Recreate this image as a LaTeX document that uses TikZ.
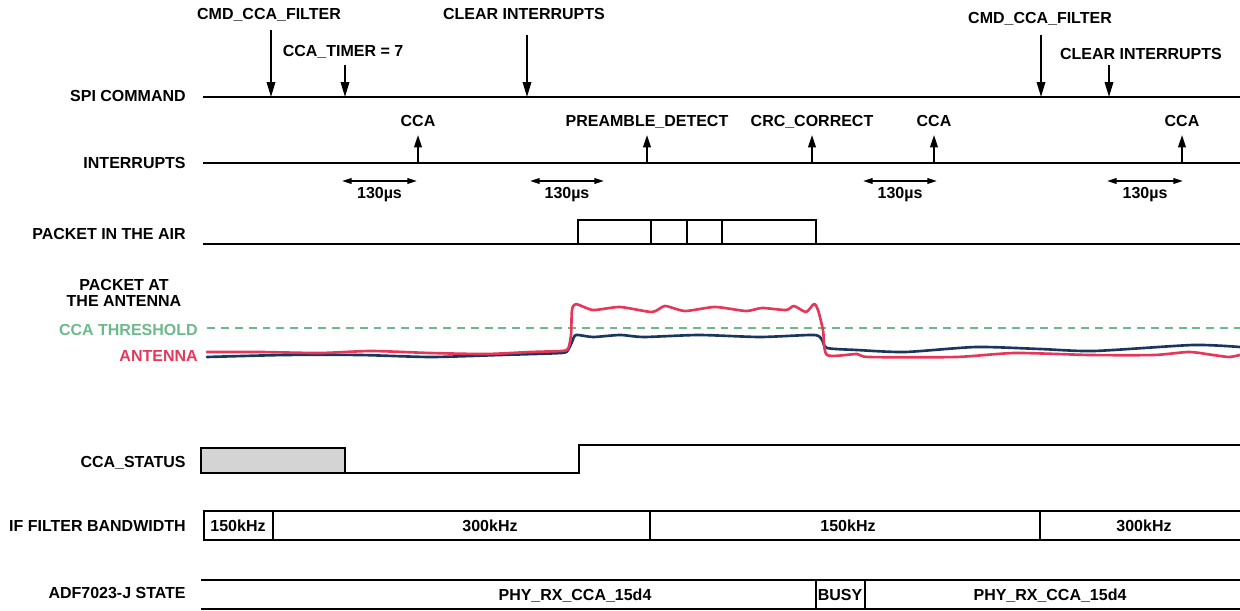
\documentclass[tikz,border=0pt]{standalone}
\usepackage{fontspec}
\setmainfont{Liberation Sans}
\usetikzlibrary{arrows.meta}

\definecolor{antred}{HTML}{E6375A}
\definecolor{antnavy}{HTML}{1B365D}
\definecolor{thrgreen}{HTML}{6CB98C}
\definecolor{ccagray}{HTML}{D4D4D4}

\begin{document}
\begin{tikzpicture}[x=0.02cm, y=-0.02cm,
		every node/.style={font=\fontsize{9.1}{10}\selectfont\bfseries, inner sep=0pt},
		signal/.style={anchor=base east},
		event/.style={anchor=base},
		trace/.style={line width=1.7pt},
		frame/.style={line width=1.4pt},
		down/.style={line width=1.1pt, -{Triangle[length=8.5pt, width=4.8pt]}},
		up/.style={line width=1.1pt, -{Triangle[length=7pt, width=4.3pt]}},
		span/.style={line width=0.9pt, {Triangle[length=5.5pt, width=3.2pt]}-{Triangle[length=5.5pt, width=3.2pt]}},
		threshold/.style={thrgreen, line width=1.3pt, dash pattern=on 4.5pt off 3.4pt},
		rssi/.style={line width=1.5pt, line join=round, line cap=round}
		]
		\useasboundingbox (0,0) rectangle (1240,611);

		\node [signal] (spi) at (186,102) {SPI COMMAND};
		\node [signal] (irq) at (186,169) {INTERRUPTS};
		\node [signal] (air) at (186,239) {PACKET IN THE AIR};
		\node [event] (pkt1) at (124,290) {PACKET AT};
		\node [event] (pkt2) at (124,306) {THE ANTENNA};
		\node [signal, text=thrgreen] (thr) at (198,335) {CCA THRESHOLD};
		\node [signal, text=antred] (ant) at (198,361) {ANTENNA};
		\node [signal] (status) at (186,467) {CCA\_STATUS};
		\node [signal] (ifbw) at (186,531) {IF FILTER BANDWIDTH};
		\node [signal] (state) at (186,598) {ADF7023-J STATE};

		\draw [trace] (203,97) -- (1240,97);
		\node [event] (cmdA) at (269,20) {CMD\_CCA\_FILTER};
		\node [event] (timer) at (343,57) {CCA\_TIMER = 7};
		\node [event] (clrA) at (524,20) {CLEAR INTERRUPTS};
		\node [event] (cmdB) at (1040,24) {CMD\_CCA\_FILTER};
		\node [event] (clrB) at (1141,60) {CLEAR INTERRUPTS};
		\foreach \x/\y in {271/30, 345/65, 527/35, 1041/35, 1109/65}
			\draw [down] (\x,\y) -- (\x,97);

		\draw [trace] (203,163) -- (1240,163);
		\foreach \x/\txt in {418/CCA, 647/PREAMBLE\_DETECT, 812/CRC\_CORRECT, 934/CCA, 1182/CCA} {
			\node [event] (irq\x) at (\x,127) {\txt};
			\draw [up] (\x,163) -- (\x,135);
		}
		\foreach \a/\b in {342/417, 530/604, 863/937, 1107/1183} {
			\draw [span] (\a,181) -- (\b,181);
			\node [event] (us\a) at ({(\a+\b)/2},198) {130µs};
		}

		\draw [frame] (203,244) -- (578,244) -- (578,220) -- (816,220) -- (816,244) -- (1240,244);
		\draw [frame] (578,244) -- (816,244);
		\foreach \x in {651, 687, 722}
			\draw [frame] (\x,220) -- (\x,244);

		\draw [threshold] (207,328) -- (1240,328);
		\draw [rssi, antnavy] plot [smooth, tension=0.4] coordinates {(207,357) (285,355) (360,355) (431,357) (500,355) (561,353) (568,350) (572,342) (576,335) (593,337) (620,335) (644,337) (699,335) (760,337) (814,335) (822,340) (827,348) (857,350) (905,352) (976,347) (1040,349) (1094,351) (1193,345) (1240,347)};
		\draw [rssi, antred] plot [smooth, tension=0.4] coordinates {(207,352) (260,352) (320,353) (371,351) (430,353) (486,354) (530,352) (561,351) (568,349) (571,335) (572,310) (576,304) (593,310) (620,307) (652,312) (665,306) (685,311) (715,307) (746,311) (762,308) (786,310) (794,306) (806,312) (814,304) (818,310) (823,330) (827,355) (857,354) (869,357) (956,357) (1015,353) (1090,355) (1154,355) (1189,352) (1213,355) (1229,357) (1240,355)};

		\filldraw [frame, fill=ccagray] (201,448) rectangle (345,473);
		\draw [frame] (345,473) -- (579,473) -- (579,445) -- (1240,445);

		\draw [frame] (1240,511) -- (204,511) -- (204,540) -- (1240,540);
		\foreach \x in {273, 650, 1040}
			\draw [frame] (\x,511) -- (\x,540);
		\node [event] (bw1) at (238,531) {150kHz};
		\node [event] (bw2) at (490,531) {300kHz};
		\node [event] (bw3) at (848,531) {150kHz};
		\node [event] (bw4) at (1144,531) {300kHz};

		\draw [frame] (201,580) -- (1240,580);
		\draw [frame] (201,609) -- (1240,609);
		\foreach \x in {816, 865}
			\draw [frame] (\x,580) -- (\x,609);
		\node [event] (st1) at (575,600) {PHY\_RX\_CCA\_15d4};
		\node [event] (st2) at (840,600) {BUSY};
		\node [event] (st3) at (1050,600) {PHY\_RX\_CCA\_15d4};
	\end{tikzpicture}
\end{document}
